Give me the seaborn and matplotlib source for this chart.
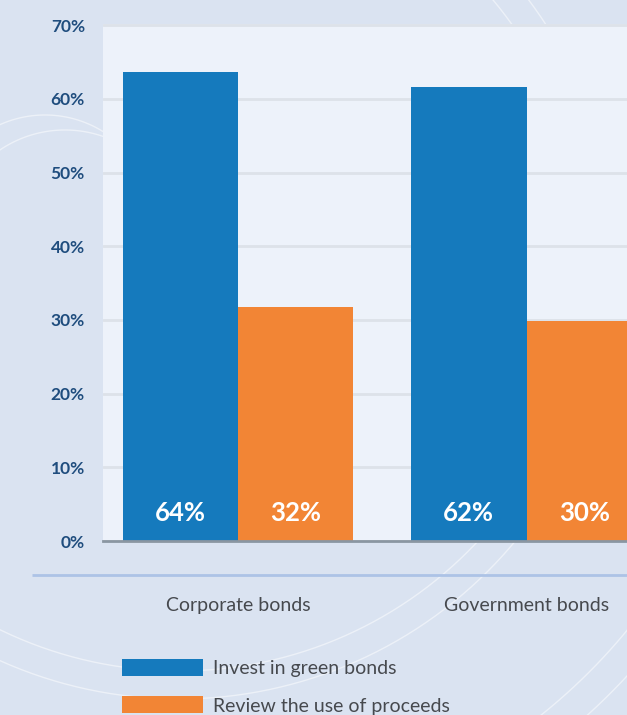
import numpy as np
import pandas as pd
import matplotlib
matplotlib.use("Agg")
import matplotlib.pyplot as plt
import seaborn as sns

# --- data -------------------------------------------------------------
bond_types = ["Corporate bonds", "Government bonds"]
actions = ["Invest in green bonds", "Review the use of proceeds"]
invest_share = [63.6, 61.6]
review_share = [31.8, 29.9]
y_ticks = [0, 10, 20, 30, 40, 50, 60, 70]

df = pd.DataFrame({
    "bond_type": bond_types * 2,
    "action": [actions[0]] * 2 + [actions[1]] * 2,
    "share": invest_share + review_share,
})

# --- style ------------------------------------------------------------
BG = "#dae3f1"
PANEL = "#edf2fa"
BLUE = "#157abd"
ORANGE = "#f28535"
TICK_COLOR = "#1f4d7e"
TEXT_GREY = "#46494e"

sns.set_theme(style="white")
plt.rcParams["font.family"] = ["Lato", "DejaVu Sans"]

W, H = 627, 715
fig = plt.figure(figsize=(W / 100, H / 100), dpi=100, facecolor=BG)

# decorative background layer in pixel coordinates
bg = fig.add_axes([0, 0, 1, 1], zorder=0)
bg.set_xlim(0, W)
bg.set_ylim(H, 0)
bg.axis("off")
t = np.linspace(0, 2 * np.pi, 720)
for r in (409, 437, 580, 610):
    bg.plot(179 + r * np.cos(t), 262 + r * np.sin(t), color="white", lw=1.0, alpha=0.5)
for cx, cy, r in ((45, 225, 110), (65, 246, 116)):
    ta = np.radians(np.linspace(50, 125, 100))
    bg.plot(cx + r * np.cos(ta), cy - r * np.sin(ta), color="white", lw=1.0, alpha=0.5)
# light separator under the chart
bg.plot([32, W], [575, 575], color="#adc3e6", lw=2, solid_capstyle="butt")

# --- main chart -------------------------------------------------------
left_px, top_px, bottom_px = 103, 24, 541
ax = fig.add_axes([left_px / W, (H - bottom_px) / H, 1 - left_px / W, (bottom_px - top_px) / H], zorder=1)
ax.set_facecolor(PANEL)

sns.barplot(
    data=df, x="bond_type", y="share", hue="action",
    palette=[BLUE, ORANGE], saturation=1, width=0.8,
    linewidth=0, errorbar=None, ax=ax,
)

group_px = 288.5
ax.set_xlim((left_px - 238) / group_px, (left_px - 238) / group_px + (W - left_px) / group_px)
ax.set_ylim(0, 70.15)
ax.set_yticks(y_ticks)
ax.set_yticklabels([f"{v}%" for v in y_ticks])
ax.set_xlabel("")
ax.set_ylabel("")

ax.yaxis.grid(True, color="#dde2e9", lw=2)
ax.set_axisbelow(True)
for side in ("top", "right", "left"):
    ax.spines[side].set_visible(False)
ax.spines["bottom"].set_color("#8a96a2")
ax.spines["bottom"].set_linewidth(2)
ax.spines["bottom"].set_zorder(5)

ax.tick_params(axis="y", length=0, pad=13, labelsize=12.5, labelcolor=TICK_COLOR)
for lbl in ax.get_yticklabels():
    lbl.set_fontweight("bold")
ax.tick_params(axis="x", length=0, pad=40.5, labelsize=14, labelcolor=TEXT_GREY)

# value labels at the foot of each bar
for container, values in zip(ax.containers, [invest_share, review_share]):
    for bar, v in zip(container, values):
        ax.annotate(
            f"{v:.0f}%",
            xy=(bar.get_x() + bar.get_width() / 2, 0),
            xytext=(0, 20), textcoords="offset points",
            ha="center", va="center", color="white",
            fontsize=18.5, fontweight="bold", clip_on=True,
        )

fs = 14
fs_px = fs * 100 / 72
sns.move_legend(
    ax, loc="upper left",
    bbox_to_anchor=(122 / W, 1 - 659 / H), bbox_transform=fig.transFigure,
    frameon=False, title=None, fontsize=fs,
    handlelength=81 / fs_px, handleheight=19 / fs_px,
    handletextpad=10 / fs_px, labelspacing=0.98,
    borderpad=0, borderaxespad=0,
)
for txt in ax.get_legend().get_texts():
    txt.set_color(TEXT_GREY)

fig.savefig("out.png", dpi=100, facecolor=BG)
